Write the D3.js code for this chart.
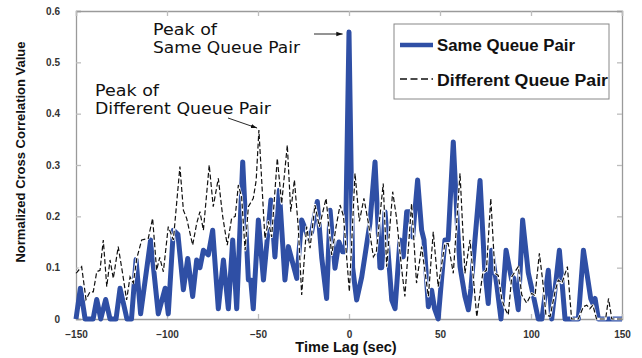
<!DOCTYPE html>
<html>
<head>
<meta charset="utf-8">
<script src="https://cdn.jsdelivr.net/npm/d3@7"></script>
<style>
  body { margin: 0; background: #fff; }
  svg { display: block; }
  .tick text { font-family: 'Liberation Sans', Arial, sans-serif; font-weight: bold; font-size: 10px; fill: #333; }
</style>
</head>
<body>
<div id="chart"></div>
<script>
// time lag (sec) and correlation values (turning points)
const sameTimes = [-150, -147.6, -145, -140.6, -138.6, -136.4, -133.7, -131.3, -128, -125.8, -122, -119.5, -117, -114.5, -109, -104.8, -101, -99.3, -96.5, -94, -91, -88.6, -85.9, -83.7, -81.9, -80, -77.3, -74.9, -71.8, -69, -66.3, -63.9, -61.7, -58.4, -55.3, -54, -52.6, -49.8, -47, -42.9, -40.7, -38.3, -35.2, -33.3, -28.7, -26, -24.5, -22.4, -20.5, -17.4, -15, -12.3, -10.4, -7.7, -5.5, -3.5, -2, 0, 2, 4.2, 7, 11.5, 14.3, 17, 18, 19.8, 23.5, 25.3, 28, 29.8, 31.7, 33.5, 35, 37.7, 39.9, 41.2, 43.6, 45.4, 47, 49, 52.7, 54.5, 57.3, 59.5, 61, 63.7, 65.6, 67, 69.2, 72, 74.5, 76.5, 78.4, 81.2, 83.5, 86.3, 89.4, 90.5, 93, 95.4, 98.5, 101, 104, 106, 109.5, 111.4, 115.6, 118.7, 126, 128.8, 132.8, 134, 135.2, 137, 150]
const sameValues = [0, 0.06, 0, 0, 0.038, 0, 0.038, 0, 0, 0.06, 0, 0, 0.116, 0.01, 0.154, 0.01, 0.06, 0.01, 0.173, 0.165, 0.057, 0.118, 0.044, 0.115, 0.1, 0.134, 0.125, 0.173, 0.02, 0.115, 0.02, 0.154, 0.02, 0.306, 0.076, 0.076, 0.02, 0.193, 0.076, 0.232, 0.121, 0.251, 0.076, 0.141, 0.079, 0.193, 0.18, 0.157, 0.17, 0.229, 0.12, 0.04, 0.212, 0.099, 0.15, 0.131, 0.131, 0.559, 0.1, 0.037, 0.082, 0.187, 0.306, 0.1, 0.1, 0.209, 0.037, 0.02, 0.154, 0.121, 0.209, 0.209, 0.16, 0.271, 0.173, 0.154, 0.024, 0.056, 0.02, 0, 0.154, 0.154, 0.345, 0.186, 0.102, 0.044, 0.018, 0.06, 0.154, 0.27, 0.1, 0.03, 0.134, 0.066, 0, 0.134, 0.076, 0.08, 0.018, 0.193, 0.09, 0.05, 0, 0, 0.095, 0, 0.134, 0, 0, 0.134, 0.04, 0.03, 0.04, 0, 0]

const diffTimes = [-150, -146.9, -144.5, -142.3, -140.5, -138.6, -136.8, -135, -133.1, -131.3, -129.5, -126.8, -124.4, -122.2, -120.3, -118.5, -116.6, -113.9, -110.3, -107.9, -105.7, -104, -102, -99.3, -96.5, -92.9, -91, -89.2, -85.9, -83.7, -81.9, -80, -76.8, -74.6, -71.8, -69.4, -66.9, -64.5, -62.5, -60.8, -59, -57.1, -55.3, -52.6, -51, -49.5, -46.2, -44.3, -42.5, -39.4, -37, -33.9, -32, -30, -27.9, -26, -23.3, -21.4, -18.7, -16.3, -12.6, -9.5, -7.1, -4.9, -3, -1.3, 0.2, 3.3, 5.7, 8.2, 10.5, 13.4, 15, 18.8, 20.7, 24, 26, 28.9, 30.7, 34.4, 37.1, 39.9, 43.6, 46.3, 49, 52.7, 54.5, 57.3, 61, 63.7, 66.5, 70.2, 73.5, 75.5, 77.9, 80.2, 82, 83.9, 85.7, 87.5, 89.4, 91.2, 93, 94.9, 97.6, 100.4, 102.2, 104.6, 106.4, 108.2, 110.5, 113.2, 115, 117, 120, 122.3, 126, 128.8, 130.6, 132.3, 134, 136, 141, 142.6, 144.4, 150]
const diffValues = [0.089, 0.102, 0.038, 0.053, 0.053, 0.092, 0.095, 0.154, 0.063, 0.115, 0.079, 0.141, 0.089, 0.037, 0.082, 0.07, 0.118, 0.154, 0.157, 0.196, 0.095, 0.12, 0.092, 0.18, 0.154, 0.297, 0.212, 0.196, 0.144, 0.186, 0.209, 0.173, 0.3, 0.219, 0.274, 0.2, 0.144, 0.196, 0.2, 0.261, 0.238, 0.134, 0.219, 0.235, 0.27, 0.368, 0.157, 0.19, 0.16, 0.313, 0.225, 0.339, 0.209, 0.271, 0.18, 0.047, 0.18, 0.138, 0.222, 0.18, 0.235, 0.125, 0.18, 0.222, 0.2, 0.121, 0.053, 0.284, 0.19, 0.235, 0.19, 0.121, 0.13, 0.264, 0.102, 0.248, 0.2, 0.099, 0.044, 0.225, 0.07, 0.141, 0.044, 0.17, 0.063, 0.147, 0.147, 0.089, 0.284, 0.089, 0.154, 0.004, 0.089, 0.095, 0.235, 0.089, 0.085, 0.04, 0.02, 0.008, 0.082, 0.092, 0.102, 0.047, 0.031, 0.05, 0.045, 0.128, 0.075, 0.008, 0.005, 0.053, 0.076, 0.07, 0.102, 0, 0, 0.024, 0.027, 0.02, 0.027, 0, 0, 0.04, 0, 0]

const xTicks = [-150, -100, -50, 0, 50, 100, 150]
const yTicks = [0, 0.1, 0.2, 0.3, 0.4, 0.5, 0.6]
const seriesNames = ['Same Queue Pair', 'Different Queue Pair']

const margin = { top: 11, left: 76, right: 20, bottom: 39 }
const width = 642 - margin.left - margin.right
const height = 358 - margin.top - margin.bottom

const svg = d3
  .select('#chart')
  .append('svg')
  .attr('width', 642)
  .attr('height', 358)
  .append('g')
  .attr('transform', 'translate(' + margin.left + ',' + margin.top + ')')

const xPositionScale = d3.scaleLinear().domain([-150, 150]).range([0, width])
const yPositionScale = d3.scaleLinear().domain([0, 0.6]).range([height, 0])

const sameData = sameTimes.map((t, i) => ({ t: t, v: sameValues[i] }))
const diffData = diffTimes.map((t, i) => ({ t: t, v: diffValues[i] }))

// axes, ticks pointing inward on all four sides
const axisColor = '#9a9a9a'
const yAxis = d3.axisLeft(yPositionScale).tickValues(yTicks).tickSize(-5).tickPadding(16)
  .tickFormat(d => d === 0 ? '0' : d3.format('.1f')(d))
svg.append('g').attr('class', 'axis y-axis').call(yAxis)

const yAxisRight = d3.axisRight(yPositionScale).tickValues(yTicks).tickSize(-5).tickFormat('')
svg.append('g').attr('class', 'axis y-axis-right')
  .attr('transform', 'translate(' + width + ',0)')
  .call(yAxisRight)

const xAxis = d3.axisBottom(xPositionScale).tickValues(xTicks).tickSize(-5).tickPadding(12)
svg.append('g').attr('class', 'axis x-axis')
  .attr('transform', 'translate(0,' + height + ')')
  .call(xAxis)

const xAxisTop = d3.axisTop(xPositionScale).tickValues(xTicks).tickSize(-5).tickFormat('')
svg.append('g').attr('class', 'axis x-axis-top').call(xAxisTop)

svg.selectAll('.axis path').attr('stroke', axisColor).attr('stroke-width', 1.3)
svg.selectAll('.axis line').attr('stroke', '#bdbdbd').attr('stroke-width', 1.3)
svg.selectAll('.x-axis .tick text').attr('dy', '0.71em')

// lines
const line = d3.line()
  .x(d => xPositionScale(d.t))
  .y(d => yPositionScale(d.v))

svg.append('path')
  .datum(sameData)
  .attr('fill', 'none')
  .attr('stroke', '#2f4fa5')
  .attr('stroke-width', 5)
  .attr('stroke-linejoin', 'round')
  .attr('d', line)

// white halo under the dashed line so the gaps show white over the blue
svg.append('path')
  .datum(diffData)
  .attr('fill', 'none')
  .attr('stroke', '#fff')
  .attr('stroke-width', 2.4)
  .attr('stroke-linejoin', 'round')
  .attr('d', line)

svg.append('path')
  .datum(diffData)
  .attr('fill', 'none')
  .attr('stroke', '#111')
  .attr('stroke-width', 1.2)
  .attr('stroke-dasharray', '5,2.5')
  .attr('d', line)

// axis titles
svg.append('text')
  .attr('x', width / 2 - 3)
  .attr('y', height + 33)
  .attr('text-anchor', 'middle')
  .attr('font-family', "'Liberation Sans', Arial, sans-serif")
  .attr('font-weight', 'bold')
  .attr('font-size', 14.5)
  .attr('fill', '#111')
  .text('Time Lag (sec)')

svg.append('text')
  .attr('transform', 'translate(-51,' + 141 + ') rotate(-90)')
  .attr('text-anchor', 'middle')
  .attr('font-family', "'Liberation Sans', Arial, sans-serif")
  .attr('font-weight', 'bold')
  .attr('font-size', 13)
  .attr('fill', '#111')
  .text('Normalized Cross Correlation Value')

// legend
const legend = svg.append('g').attr('transform', 'translate(' + (394 - margin.left) + ',' + (24 - margin.top) + ')')
legend.append('rect')
  .attr('width', 215)
  .attr('height', 75)
  .attr('fill', '#fff')
  .attr('stroke', '#888')
  .attr('stroke-width', 1)

legend.append('line')
  .attr('x1', 6).attr('x2', 39).attr('y1', 21).attr('y2', 21)
  .attr('stroke', '#2f4fa5').attr('stroke-width', 4.5)
legend.append('line')
  .attr('x1', 6).attr('x2', 39).attr('y1', 55).attr('y2', 55)
  .attr('stroke', '#111').attr('stroke-width', 1.6).attr('stroke-dasharray', '7,3.5')

legend.selectAll('.legend-label')
  .data(seriesNames)
  .enter()
  .append('text')
  .attr('class', 'legend-label')
  .attr('x', 43)
  .attr('y', (d, i) => i === 0 ? 27 : 62)
  .attr('textLength', (d, i) => i === 0 ? 138 : 171)
  .attr('lengthAdjust', 'spacingAndGlyphs')
  .attr('font-family', "'Liberation Sans', Arial, sans-serif")
  .attr('font-weight', 'bold')
  .attr('font-size', 16)
  .attr('fill', '#111')
  .text(d => d)

// annotations
const noteFont = "'DejaVu Sans', sans-serif"
const notes = [
  { text: 'Peak of', x: 153, y: 35, len: 64 },
  { text: 'Same Queue Pair', x: 153, y: 53, len: 147 },
  { text: 'Peak of', x: 95, y: 96, len: 64 },
  { text: 'Different Queue Pair', x: 95, y: 114, len: 176 }
]
svg.selectAll('.note')
  .data(notes)
  .enter()
  .append('text')
  .attr('class', 'note')
  .attr('x', d => d.x - margin.left)
  .attr('y', d => d.y - margin.top)
  .attr('textLength', d => d.len)
  .attr('lengthAdjust', 'spacingAndGlyphs')
  .attr('font-family', noteFont)
  .attr('font-size', 15)
  .attr('fill', '#111')
  .text(d => d.text)

svg.append('defs').append('marker')
  .attr('id', 'arrow')
  .attr('viewBox', '0 0 10 10')
  .attr('refX', 10).attr('refY', 5)
  .attr('markerWidth', 7).attr('markerHeight', 7)
  .attr('orient', 'auto')
  .append('path')
  .attr('d', 'M0,1.5 L10,5 L0,8.5 Z')
  .attr('fill', '#111')

// arrow to the same-pair peak and to the different-pair peak
svg.append('line')
  .attr('x1', 314 - margin.left).attr('y1', 34 - margin.top)
  .attr('x2', xPositionScale(-3.5)).attr('y2', 34 - margin.top)
  .attr('stroke', '#111').attr('stroke-width', 0.9)
  .attr('marker-end', 'url(#arrow)')
svg.append('line')
  .attr('x1', 228 - margin.left).attr('y1', 118 - margin.top)
  .attr('x2', xPositionScale(-50.5)).attr('y2', yPositionScale(0.37) - 1)
  .attr('stroke', '#111').attr('stroke-width', 0.9)
  .attr('marker-end', 'url(#arrow)')
</script>
</body>
</html>
